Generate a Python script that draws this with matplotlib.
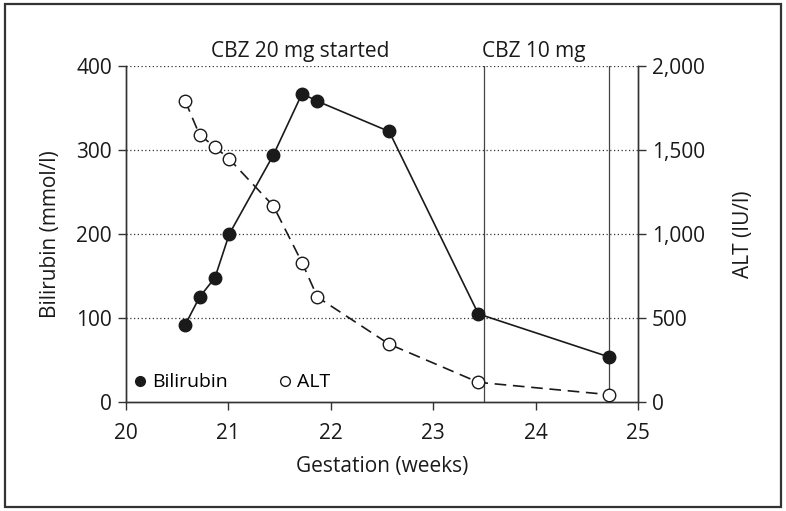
import matplotlib as mpl
mpl.use("Agg")
import matplotlib.pyplot as plt
from matplotlib.patches import Rectangle
from matplotlib.lines import Line2D

plt.rcParams.update({"font.family": ["Open Sans", "DejaVu Sans"], "font.size": 15})

# data
weeks = [20.58, 20.72, 20.87, 21.01, 21.44, 21.72, 21.87, 22.57, 23.44, 24.71]
bilirubin = [92, 125, 148, 200, 294, 367, 358, 322, 105, 54]
alt = [1792, 1590, 1518, 1446, 1167, 830, 625, 345, 118, 45]
dose_changes = [23.5, 24.71]
dose_labels = ["CBZ 20 mg started", "CBZ 10 mg"]
dose_label_x = [21.7, 23.98]

FS = 15
INK = "#1a1a1a"

fig = plt.figure(figsize=(7.86, 5.11), dpi=100)
fig.patches.append(Rectangle((0.006, 0.008), 0.988, 0.984, transform=fig.transFigure,
                             fill=False, ec="#333333", lw=1.6))
ax = fig.add_axes([0.160, 0.213, 0.652, 0.658])
ax2 = ax.twinx()

ax.set_xlim(20, 25)
ax.set_ylim(0, 400)
ax2.set_ylim(0, 2000)

for y in [100, 200, 300, 400]:
    ax.axhline(y, color="#333333", lw=0.9, ls=(0, (1, 2)), zorder=1)
for x in dose_changes:
    ax.axvline(x, color="#444444", lw=0.9, zorder=1)

ax.plot(weeks, bilirubin, "-", color=INK, lw=1.2, marker="o", ms=9,
        mfc=INK, mec=INK, zorder=4)
ax2.plot(weeks, alt, color=INK, lw=1.2, ls=(0, (7, 4)), marker="o", ms=9,
         mfc="white", mec=INK, mew=1.0, zorder=4)

for x, s in zip(dose_label_x, dose_labels):
    ax.text(x, 405, s, ha="center", va="bottom", fontsize=FS, color=INK)

handles = [Line2D([], [], ls="none", marker="o", ms=7, mfc=INK, mec=INK),
           Line2D([], [], ls="none", marker="o", ms=7, mfc="white", mec=INK)]
ax.legend(handles, ["Bilirubin", "ALT"], loc="lower left", ncol=2, frameon=False,
          handletextpad=0.35, handlelength=0.6, columnspacing=2.6, fontsize=14,
          bbox_to_anchor=(-0.005, 0.0), borderaxespad=0.15)

for a in (ax, ax2):
    a.spines["top"].set_visible(False)
    for s in a.spines.values():
        s.set_color("#333333")
        s.set_linewidth(1.0)
    a.tick_params(direction="out", length=6, width=1.0, color="#333333", labelsize=FS,
                  labelcolor=INK, pad=4)
ax.tick_params(axis="x", pad=9)

ax.set_xticks([20, 21, 22, 23, 24, 25])
ax.set_yticks([0, 100, 200, 300, 400])
ax2.set_yticks([0, 500, 1000, 1500, 2000])
ax2.set_yticklabels(["0", "500", "1,000", "1,500", "2,000"])

ax.set_xlabel("Gestation (weeks)", fontsize=FS, color=INK, labelpad=9)
ax.set_ylabel("Bilirubin (mmol/l)", fontsize=FS, color=INK, labelpad=11)
ax2.set_ylabel("ALT (IU/l)", fontsize=FS, color=INK, labelpad=20)

fig.savefig("out.png", dpi=100)
plt.close(fig)
